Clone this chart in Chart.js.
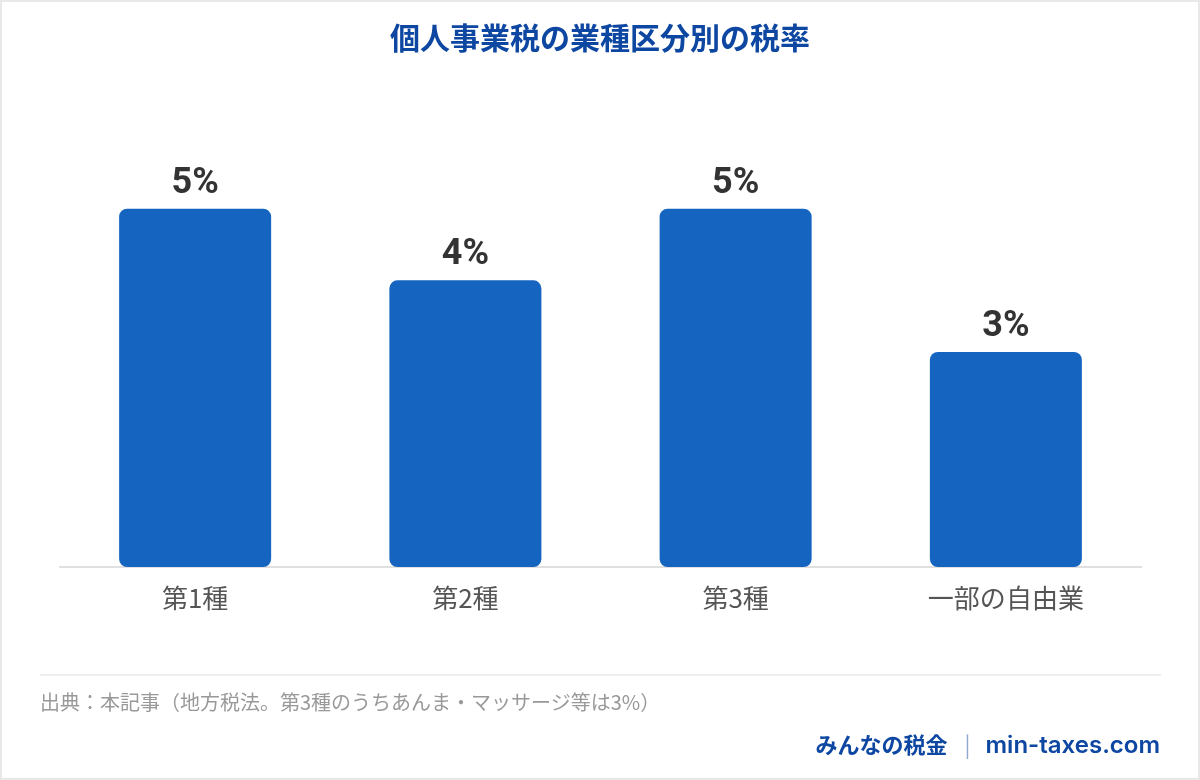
<!DOCTYPE html>
<html lang="ja">
<head>
<meta charset="utf-8">
<script src="https://cdn.jsdelivr.net/npm/chart.js@4.4.1/dist/chart.umd.min.js"></script>
<style>
  html, body { margin: 0; padding: 0; background: #ffffff; }
  #wrap { position: relative; width: 1200px; height: 780px; background: #fff; overflow: hidden; }
  #frame { position: absolute; left: 0; top: 0; width: 1200px; height: 780px; box-sizing: border-box; border: 2px solid #e8e8e8; pointer-events: none; }
  #c { position: absolute; left: 0; top: 0; }
  #title { position: absolute; left: 0; top: 15px; width: 1200px; text-align: center; font-family: "Noto Sans CJK JP", "Noto Sans", sans-serif; font-weight: 700; font-size: 30px; line-height: 42px; color: #0d47a1; }
  #rule { position: absolute; left: 40px; top: 674px; width: 1121px; height: 2px; background: #eeeeee; }
  #source { position: absolute; left: 40px; top: 688px; font-family: "Noto Sans CJK JP", sans-serif; font-size: 20px; line-height: 28px; color: #999999; white-space: nowrap; }
  #brand { position: absolute; right: 40px; top: 728px; font-weight: 700; line-height: 30px; color: #0d47a1; white-space: nowrap; }
  #brand .jp { font-family: "Noto Sans CJK JP", sans-serif; font-size: 22px; }
  #brand .sep { font-family: "Noto Sans CJK JP", sans-serif; font-size: 22px; color: #8fa8d0; font-weight: 400; margin: 0 15px 0 17px; }
  #brand .en { font-family: Inter, Roboto, sans-serif; font-size: 24px; font-weight: 600; }
</style>
</head>
<body>
<div id="wrap">
  <canvas id="c" width="1200" height="780"></canvas>
  <div id="title">個人事業税の業種区分別の税率</div>
  <div id="rule"></div>
  <div id="source">出典：本記事（地方税法。第3種のうちあんま・マッサージ等は3%）</div>
  <div id="brand"><span class="jp">みんなの税金</span><span class="sep">|</span><span class="en">min-taxes.com</span></div>
  <div id="frame"></div>
</div>
<script>
const categories = ["第1種", "第2種", "第3種", "一部の自由業"];
const rates = [5, 4, 5, 3];
const valueLabels = ["5%", "4%", "5%", "3%"];

const valueLabelPlugin = {
  id: "valueLabels",
  afterDatasetsDraw(chart) {
    const ctx = chart.ctx;
    const meta = chart.getDatasetMeta(0);
    ctx.save();
    ctx.font = "700 36px Roboto, 'Noto Sans', sans-serif";
    ctx.fillStyle = "#333333";
    ctx.textAlign = "center";
    ctx.textBaseline = "middle";
    meta.data.forEach((bar, i) => {
      ctx.fillText(valueLabels[i], bar.x, bar.y - 25);
    });
    ctx.restore();
  }
};

new Chart(document.getElementById("c"), {
  type: "bar",
  data: {
    labels: categories,
    datasets: [{
      data: rates,
      backgroundColor: "#1565c0",
      borderRadius: 8,
      borderSkipped: false,
      categoryPercentage: 1.0,
      barPercentage: 0.5625
    }]
  },
  options: {
    responsive: false,
    animation: false,
    devicePixelRatio: 1,
    layout: { padding: { left: 60, right: 59, top: 137, bottom: 0 } },
    plugins: { legend: { display: false }, tooltip: { enabled: false }, title: { display: false } },
    scales: {
      x: {
        grid: { display: false, drawTicks: false },
        border: { display: true, color: "#e0e0e0", width: 2 },
        ticks: { color: "#555555", padding: 16, font: { family: "'Noto Sans CJK JP', sans-serif", size: 26 } },
        afterFit(scale) { scale.height = 213; }
      },
      y: { display: false, min: 0, max: 6 }
    }
  },
  plugins: [valueLabelPlugin]
});
</script>
</body>
</html>
